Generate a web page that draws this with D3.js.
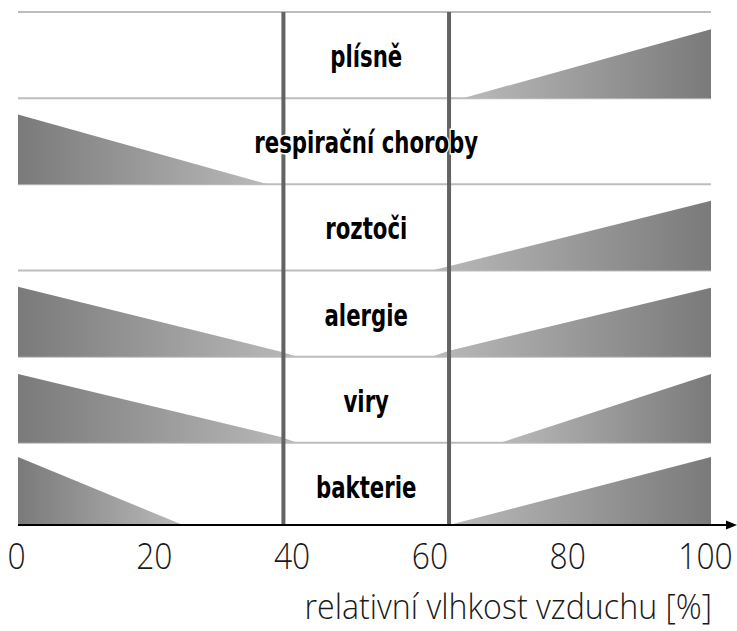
<!DOCTYPE html>
<html>
<head>
<meta charset="UTF-8">
<script src="https://cdn.jsdelivr.net/npm/d3@7"></script>
<style>
  html, body { margin: 0; padding: 0; background: #fff; }
  .band-label { font-family: "DejaVu Sans Condensed", "DejaVu Sans"; font-weight: bold; font-size: 30px; fill: #000; stroke: #fff; stroke-width: 3px; paint-order: stroke; }
  .tick text { font-family: "Open Sans", sans-serif; font-weight: 300; font-size: 37px; fill: #1a1a1a; }
  .axis-title { font-family: "Open Sans", sans-serif; font-weight: 300; font-size: 35px; fill: #1a1a1a; }
</style>
</head>
<body>
<svg id="chart" width="737" height="631"></svg>
<script>
// rows of the chart, top to bottom
const categories = ["plísně", "respirační choroby", "roztoči", "alergie", "viry", "bakterie"];

// wedge outlines as [relative humidity %, intensity 0..1 of row height]
const leftWedges = [
  null,
  [[0, 0.81], [36.1, 0]],
  null,
  [[0, 0.81], [37.8, 0.06], [40.3, 0]],
  [[0, 0.80], [37.8, 0.07], [40.3, 0]],
  [[0, 0.79], [23.8, 0]]
];
const rightWedges = [
  [[64.2, 0], [100, 0.80]],
  null,
  [[59.7, 0], [62.2, 0.05], [100, 0.81]],
  [[59.7, 0], [62.2, 0.07], [100, 0.80]],
  [[69.6, 0], [100, 0.80]],
  [[62.2, 0], [100, 0.79]]
];

// optimal humidity zone borders
const optimum = [38.3, 62.2];
const xTicks = [0, 20, 40, 60, 80, 100];
const axisTitle = "relativní vlhkost vzduchu [%]";

const svg = d3.select("#chart");
const axisY = 525;

const x = d3.scaleLinear().domain([0, 100]).range([18, 711]);
// tick labels sit a little to the left of the drawing area in the original
const xLab = d3.scaleLinear().domain([0, 100]).range([16, 705]);
const y = d3.scaleBand().domain(categories).range([12, 529]);
const bw = y.bandwidth();

// gradients: dark at the outer edge, light towards the middle
const defs = svg.append("defs");
function grad(id, c1, c2) {
  const g = defs.append("linearGradient").attr("id", id)
    .attr("x1", 0).attr("x2", 1).attr("y1", 0).attr("y2", 0);
  g.append("stop").attr("offset", 0).attr("stop-color", c1);
  g.append("stop").attr("offset", 1).attr("stop-color", c2);
}
grad("gradL", "#7a7a7a", "#bababa");
grad("gradR", "#bababa", "#7a7a7a");

// row separators
svg.append("g").selectAll("line").data(categories).join("line")
  .attr("x1", x(0)).attr("x2", x(100))
  .attr("y1", d => y(d)).attr("y2", d => y(d))
  .attr("stroke", "#bdbdbd").attr("stroke-width", 2);

// wedges
function wedge(cat, pts, fill) {
  if (!pts) return;
  const yb = Math.min(y(cat) + bw, axisY);
  const area = d3.area()
    .x(d => x(d[0]))
    .y0(yb)
    .y1(d => yb - d[1] * bw);
  svg.append("path").attr("d", area(pts)).attr("fill", fill);
}
categories.forEach((c, i) => {
  wedge(c, leftWedges[i], "url(#gradL)");
  wedge(c, rightWedges[i], "url(#gradR)");
});

// optimum zone borders
svg.append("g").selectAll("line").data(optimum).join("line")
  .attr("x1", d => x(d)).attr("x2", d => x(d))
  .attr("y1", y.range()[0]).attr("y2", axisY)
  .attr("stroke", "#636363").attr("stroke-width", 4);

// labels in the middle of each row
const cx = (x(optimum[0]) + x(optimum[1])) / 2;
const labels = svg.append("g").selectAll("text").data(categories).join("text")
  .attr("class", "band-label")
  .attr("text-anchor", "middle")
  .text(d => d);
let maxLen = 0;
labels.each(function() { maxLen = Math.max(maxLen, this.getComputedTextLength()); });
const sx = 224 / maxLen;
labels.attr("transform", d => `translate(${cx},${y(d) + bw / 2 + 12}) scale(${sx},1)`);

// x axis labels
svg.append("g")
  .attr("transform", `translate(0,${axisY})`)
  .call(d3.axisBottom(xLab).tickValues(xTicks).tickSize(0).tickPadding(18))
  .call(g => g.select(".domain").remove())
  .call(g => g.selectAll(".tick text").attr("transform", "scale(0.86,1)"));

svg.append("line")
  .attr("x1", x(0)).attr("x2", 728)
  .attr("y1", axisY).attr("y2", axisY)
  .attr("stroke", "#000").attr("stroke-width", 2);
svg.append("path")
  .attr("d", `M737,${axisY} L726,${axisY - 4.5} L726,${axisY + 4.5} Z`)
  .attr("fill", "#000");

svg.append("text")
  .attr("class", "axis-title")
  .attr("transform", "translate(712,619) scale(0.92,1)")
  .attr("text-anchor", "end")
  .text(axisTitle);
</script>
</body>
</html>
